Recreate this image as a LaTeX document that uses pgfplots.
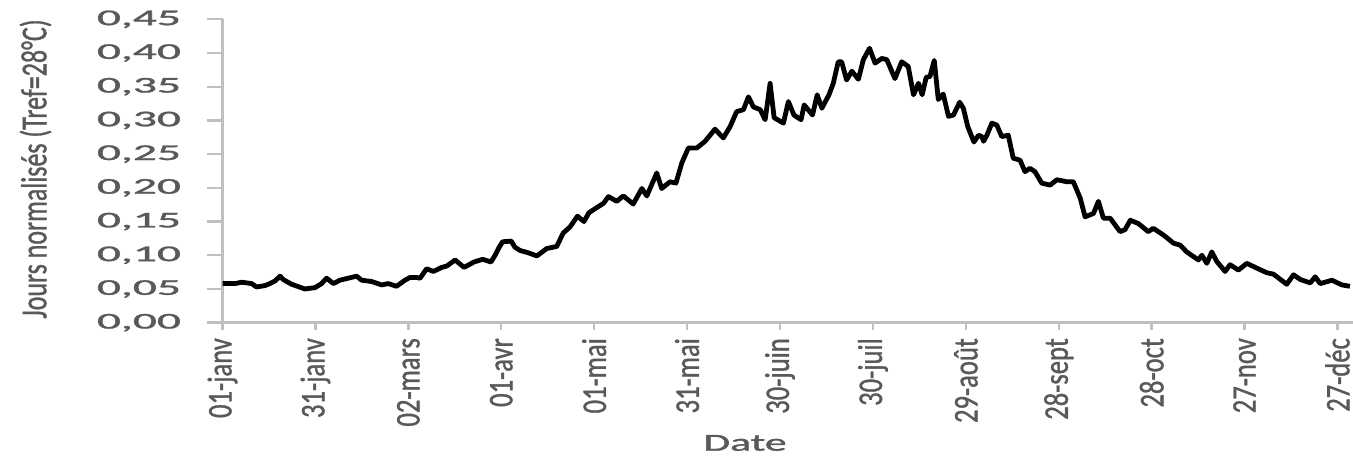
\documentclass[border=0pt]{standalone}
\usepackage{fontspec}
\setmainfont{Carlito}
\newfontfamily\hv{Carlito}[FakeBold=1.2]
\usepackage{graphicx}
\usepackage{pgfplots}
\usepackage{pgfplotstable}
\pgfplotsset{compat=1.18}
\definecolor{axgray}{HTML}{BFBFBF}
\definecolor{txtgray}{HTML}{595959}
\newcommand\yl[1]{\scalebox{2.1}[1]{#1}}
\newcommand\xl[1]{\scalebox{1}[1.3]{#1}}
\pgfplotstableread{
day val
1 0.058
5 0.058
7.2 0.060
10.4 0.058
12 0.053
14.7 0.055
16.3 0.058
18 0.062
19.6 0.069
20.6 0.064
23.3 0.057
27.6 0.050
30.9 0.052
33 0.058
34.6 0.066
36.8 0.058
38.9 0.063
41.6 0.066
44.3 0.069
45.9 0.063
49.2 0.061
52.4 0.056
54.5 0.058
57.2 0.054
59.9 0.063
61.5 0.067
63.7 0.067
64.8 0.066
66.9 0.080
69.1 0.076
71.8 0.082
73.4 0.084
76.1 0.093
79 0.082
82.2 0.090
85 0.094
87.7 0.090
89 0.100
90.1 0.110
91.4 0.120
94.2 0.121
95.4 0.112
97.1 0.107
99.5 0.104
102.5 0.099
105.7 0.110
108.9 0.113
111 0.133
113.2 0.142
115.6 0.158
117.7 0.150
119.3 0.163
121.6 0.170
124 0.177
125.6 0.187
128.3 0.180
130.4 0.188
133.6 0.176
136.4 0.199
138 0.188
141.2 0.222
142.8 0.199
145.5 0.209
147.4 0.207
149.3 0.237
151.4 0.259
154.1 0.259
156.8 0.269
160 0.287
162.7 0.274
164.9 0.291
167 0.313
169.2 0.316
170.8 0.335
172.4 0.320
174.6 0.316
176.2 0.301
177.8 0.355
179.1 0.304
182.1 0.296
183.7 0.328
185.5 0.308
187.8 0.301
188.8 0.323
191.5 0.308
193 0.338
194.5 0.318
196.8 0.338
198.2 0.355
199.8 0.387
200.9 0.387
202.5 0.360
204.2 0.373
206.3 0.361
207.9 0.390
209.9 0.407
211.7 0.385
213.9 0.392
215.5 0.390
218.1 0.362
220.3 0.387
222.4 0.380
224.1 0.338
225.7 0.355
226.9 0.338
228.2 0.364
229.4 0.365
230.8 0.389
232.1 0.331
233.7 0.339
235.4 0.306
237 0.308
239 0.327
240.2 0.318
241.6 0.291
243.6 0.268
245.1 0.278
246.2 0.276
246.7 0.269
247.8 0.278
249.4 0.296
251 0.293
252.6 0.276
254.7 0.278
256.3 0.244
258.5 0.241
260.1 0.224
261.7 0.229
263.3 0.224
265.5 0.207
268.2 0.204
270.4 0.212
273.6 0.209
275.7 0.209
277.9 0.185
279.5 0.157
282.2 0.162
283.8 0.180
285.4 0.155
287.6 0.155
290.8 0.135
292.4 0.138
294.1 0.152
296.7 0.147
299.9 0.135
301.5 0.140
304.8 0.130
306.7 0.123
308 0.118
310.2 0.115
312.3 0.105
314.5 0.098
316.1 0.093
317.2 0.100
318.8 0.088
320.4 0.105
322 0.091
324.7 0.076
326.3 0.086
329 0.078
331.7 0.088
334.9 0.081
338.2 0.074
340.3 0.072
344.6 0.057
346.8 0.071
349 0.064
352.2 0.059
353.8 0.068
355.4 0.058
359.2 0.063
362.4 0.056
365 0.054
}\datatable
\begin{document}
\begin{tikzpicture}
\begin{axis}[
  scale only axis, width=565.25bp, height=151.7bp,
  xmin=1, xmax=366, ymin=0, ymax=0.45,
  axis x line*=bottom, axis y line*=left,
  axis line style={axgray, line width=1.4bp, -},
  tick align=outside,
  xtick={1,31,61,91,121,151,181,211,241,271,301,331,361},
  xticklabels={\xl{01-janv},\xl{31-janv},\xl{02-mars},\xl{01-avr},\xl{01-mai},\xl{31-mai},\xl{30-juin},\xl{30-juil},\xl{29-août},\xl{28-sept},\xl{28-oct},\xl{27-nov},\xl{27-déc}},
  ytick={0,0.05,0.1,0.15,0.2,0.25,0.3,0.35,0.4,0.45},
  yticklabels={\yl{0,00},\yl{0,05},\yl{0,10},\yl{0,15},\yl{0,20},\yl{0,25},\yl{0,30},\yl{0,35},\yl{0,40},\yl{0,45}},
  x tick style={axgray, line width=1.2bp, /pgfplots/major tick length=3.5bp},
  y tick style={axgray, line width=1.2bp, /pgfplots/major tick length=7.5bp},
  xticklabel style={rotate=90, anchor=east, font=\hv\fontsize{13.3bp}{15bp}\selectfont, text=txtgray},
  yticklabel style={font=\hv\fontsize{11.3bp}{13bp}\selectfont, text=txtgray, xshift=-13bp},
]
\addplot[black, line width=2.4bp, line join=round, mark=none] table[x=day,y=val]{\datatable};
\coordinate (bl) at (rel axis cs:0,0);
\coordinate (tr) at (rel axis cs:1,1);
\end{axis}
\path (bl) ++(-93.5bp,76.85bp) node[rotate=90, text=txtgray, font=\hv\fontsize{13bp}{15bp}\selectfont, inner sep=0pt]{\scalebox{1}[1.4]{Jours normalisés (Tref=28°C)}};
\path (bl) ++(261.25bp,-64bp) node[anchor=base, text=txtgray, font=\hv\fontsize{12.2bp}{14bp}\selectfont, inner sep=0pt]{\scalebox{1.79}[1]{Date}};
\pgfresetboundingbox
\path[use as bounding box] ([xshift=-111.25bp,yshift=-67.15bp]bl) rectangle ([yshift=9.65bp]tr);
\end{tikzpicture}
\end{document}
